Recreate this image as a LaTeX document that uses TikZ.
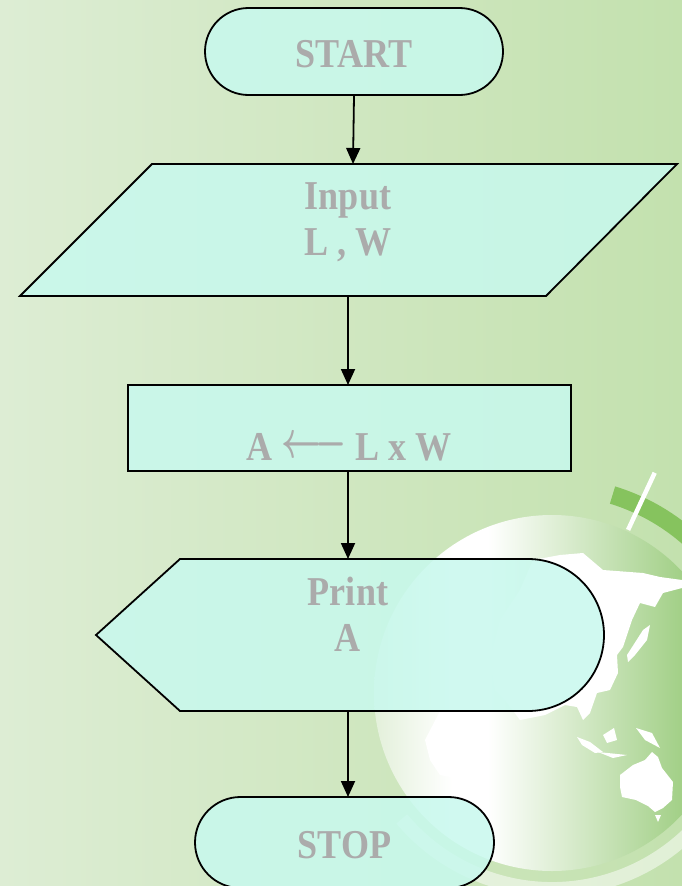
\documentclass[tikz,border=0pt]{standalone}
\usepackage{fontspec}
\setmainfont{Liberation Serif}
\newfontfamily\lblfont[FakeStretch=0.88]{Liberation Serif}
\usetikzlibrary{shapes.misc,arrows.meta,calc}

\definecolor{bgL}{HTML}{DDEDD4}
\definecolor{bgR}{HTML}{C3E1AE}
\definecolor{boxfill}{HTML}{C8F9EE}
\definecolor{labelgray}{HTML}{ABABAB}
\definecolor{globeL}{HTML}{E3F0DA}
\definecolor{globeG}{HTML}{A3D088}
\definecolor{ringG}{HTML}{86C35E}

% globe: pale rim on the left, white band, green towards the right
\pgfdeclarehorizontalshading{globeshade}{100bp}{%
  color(0bp)=(globeL); color(25bp)=(globeL); color(36bp)=(white);
  color(41bp)=(white); color(68bp)=(globeG); color(100bp)=(globeG)}

% long assignment arrow, stretched to the weight of the labels
\newcommand{\assignarrow}{\raisebox{2.5pt}{\scalebox{1.4}[2.1]{\boldmath$\longleftarrow$}}}

\begin{document}
\begin{tikzpicture}[x=1pt,y=-1pt,
  flowline/.style={line width=1.8pt, draw=black},
  shapebox/.style={flowline, fill=boxfill, fill opacity=0.85, text opacity=1},
  term/.style={shapebox, rounded rectangle, inner sep=0pt},
  lbl/.style={text=labelgray, font=\lblfont\fontsize{41}{46}\selectfont\bfseries,
              align=center, inner sep=0pt},
  arr/.style={flowline, -{Triangle[length=16pt,width=14pt]}}]

\useasboundingbox (0,0) rectangle (682,886);

% background
\shade[left color=bgL, right color=bgR] (0,0) rectangle (682,886);

\begin{scope}
  \clip (0,0) rectangle (682,886);
  \coordinate (gc) at (552,693);
  % faint outer ring below the globe
  \draw[white, opacity=0.5, line width=14pt]
    ($(gc)+(20:196)$) arc[start angle=20, end angle=140, radius=196];
  % globe
  \shade[shading=globeshade] (gc) circle[radius=178];
  \begin{scope}
    \clip (gc) circle[radius=178];
    % Asia
    \fill[white] (533,560) -- (560,555) -- (583,553) -- (603,570) -- (643,573)
      -- (660,577) -- (682,580) -- (682,588) -- (663,593) -- (655,607)
      -- (640,603) -- (632,620) -- (623,647) -- (617,655) -- (618,673)
      -- (610,690) -- (597,693) -- (590,713) -- (583,720) -- (577,707)
      -- (565,705) -- (545,715) -- (520,720) -- (505,700) -- (495,690)
      -- (490,660) -- (500,620) -- (520,590) -- cycle;
    % Africa
    \fill[white] (440,711) -- (470,711) -- (478,725) -- (470,745) -- (465,770)
      -- (455,778) -- (440,775) -- (430,760) -- (425,740) -- cycle;
    % Japan
    \fill[white] (643,630) -- (650,625) -- (647,640) -- (635,655) -- (628,662)
      -- (627,655) -- cycle;
    % islands
    \fill[white] (577,737) -- (590,742) -- (603,752) -- (595,753) -- (582,745) -- cycle;
    \fill[white] (598,752) -- (627,755) -- (613,758) -- cycle;
    \fill[white] (603,735) -- (614,728) -- (617,740) -- (607,743) -- cycle;
    \fill[white] (636,728) -- (652,733) -- (660,748) -- (645,740) -- cycle;
    % Australia
    \fill[white] (620,775) -- (633,765) -- (645,760) -- (652,752) -- (658,757)
      -- (662,768) -- (673,782) -- (672,800) -- (663,808) -- (655,812)
      -- (648,806) -- (636,800) -- (622,797) -- (620,787) -- cycle;
    \fill[white] (655,815) -- (661,815) -- (658,822) -- cycle;
  \end{scope}
  % green orbit band and white tick
  \fill[ringG] ($(gc)+(-73:198)$) arc[start angle=-73, end angle=-20, radius=198]
    -- ($(gc)+(-20:216)$) arc[start angle=-20, end angle=-73, radius=216] -- cycle;
  \draw[white, line width=4.5pt] ($(gc)+(-65:180)$) -- ($(gc)+(-65:243)$);
\end{scope}

% terminal: START
\node[term, lbl, minimum width=298pt, minimum height=87pt,
      text height=32pt, text depth=0pt] (start) at (354,51.5) {START};

% input
\path[shapebox] (152,164) -- (677,164) -- (546,296) -- (20,296) -- cycle;
\coordinate (inTop) at (353,164);
\coordinate (inBot) at (348,296);
\node[lbl] (input) at (348,222) {Input\\L , W};

% process
\path[shapebox] (128,385) rectangle (571,471);
\coordinate (procTop) at (348,385);
\coordinate (procBot) at (348,471);
\node[lbl, anchor=base] (assign) at (349,460) {A \assignarrow{} L x W};

% display
\path[shapebox] (96,635) -- (180,559) -- (528,559)
  arc[start angle=-90, end angle=90, radius=76] -- (180,711) -- cycle;
\coordinate (dispTop) at (348,559);
\coordinate (dispBot) at (348,711);
\node[lbl] (print) at (348,614.5) {Print\\A};

% terminal: STOP
\node[term, lbl, minimum width=299pt, minimum height=91pt,
      text height=31pt, text depth=0pt] (stop) at (344.5,842.5) {STOP};
\coordinate (stopTop) at (348,797);

% connectors
\draw[arr] (start.south) -- (inTop);
\draw[arr] (inBot) -- (procTop);
\draw[arr] (procBot) -- (dispTop);
\draw[arr] (dispBot) -- (stopTop);
\end{tikzpicture}
\end{document}
